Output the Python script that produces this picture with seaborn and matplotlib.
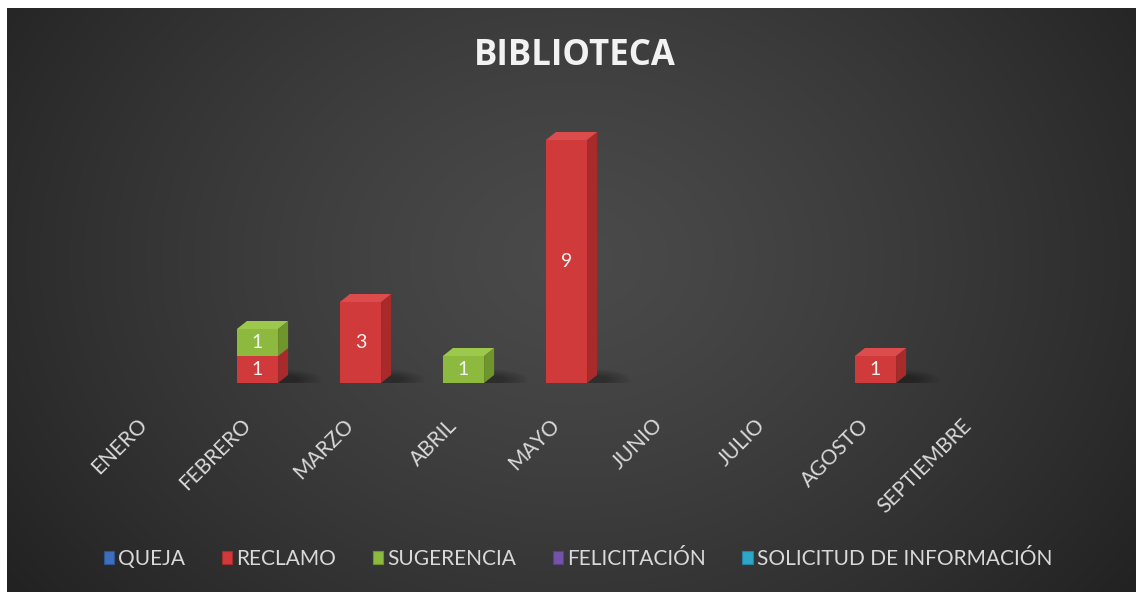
import numpy as np
import matplotlib
matplotlib.use("Agg")
import matplotlib.pyplot as plt
import seaborn as sns
from matplotlib.patches import Polygon, Patch, Ellipse
from matplotlib.transforms import ScaledTranslation

# ---------------- data ----------------
categories = ["ENERO", "FEBRERO", "MARZO", "ABRIL", "MAYO", "JUNIO", "JULIO", "AGOSTO", "SEPTIEMBRE"]
queja = [0, 0, 0, 0, 0, 0, 0, 0, 0]
reclamo = [0, 1, 3, 0, 9, 0, 0, 1, 0]
sugerencia = [0, 1, 0, 1, 0, 0, 0, 0, 0]
felicitacion = [0, 0, 0, 0, 0, 0, 0, 0, 0]
solicitud = [0, 0, 0, 0, 0, 0, 0, 0, 0]
series_names = ["QUEJA", "RECLAMO", "SUGERENCIA", "FELICITACIÓN", "SOLICITUD DE INFORMACIÓN"]
series_values = [queja, reclamo, sugerencia, felicitacion, solicitud]
title = "BIBLIOTECA"

# colours: (front, side, top)
palette = [
    ("#3d6fbe", "#2d5596", "#5585d0"),
    ("#d03a3a", "#a82a2a", "#dc4c4c"),
    ("#8cb93e", "#6e962c", "#9cc84c"),
    ("#7354a8", "#5a3f88", "#8568b8"),
    ("#2fa6c8", "#2284a2", "#45b6d6"),
]

sns.set_style("white")
plt.rcParams["font.family"] = ["Lato", "DejaVu Sans"]

W, H = 1136, 592
fig = plt.figure(figsize=(W / 100, H / 100), dpi=100)
fig.patch.set_facecolor("white")

# ---------------- background (radial gradient) ----------------
bg = fig.add_axes([7 / W, 0, 1 - 7 / W, 1 - 8 / H])
bw, bh = W - 7, H - 8
yy, xx = np.mgrid[0:bh, 0:bw]
cx, cy = 565, 250
r = np.sqrt(((xx - cx) / (bw * 0.62)) ** 2 + ((yy - cy) / (bh * 0.95)) ** 2)
r = np.clip(r, 0, 1)
val = 0x4a - (0x4a - 0x22) * r ** 1.3
img = np.dstack([val, val, val]) / 255.0
bg.imshow(img, aspect="auto", extent=[0, 1, 0, 1], interpolation="bilinear")
bg.set_axis_off()

# ---------------- main axes ----------------
base_px = 383
ax = fig.add_axes([103 / W, (H - base_px) / H, 927 / W, 270 / H])
ax.set_facecolor("none")

bar_w = 0.40
dx = 10 / 103.0
dy = 8 / 27.0

bottoms = np.zeros(len(categories))
for i, (name, vals) in enumerate(zip(series_names, series_values)):
    front, side, top = palette[i]
    n0 = len(ax.patches)
    sns.barplot(x=categories, y=vals, bottom=bottoms, color=front, width=bar_w,
                ax=ax, saturation=1, linewidth=0, zorder=3 + i)
    new = ax.patches[n0:]
    for p, v in zip(new, vals):
        p.set_facecolor(front)
        p.set_edgecolor("none")
        p.set_zorder(3 + i)
        if v <= 0:
            p.set_visible(False)
            continue
        x0, y0, w, h = p.get_x(), p.get_y(), p.get_width(), p.get_height()
        x1, y1 = x0 + w, y0 + h
        # soft shadow at the base
        if y0 == 0:
            for k in range(10):
                ew = 0.28 + 0.05 * k
                eh = 0.30 + 0.05 * k
                ax.add_patch(Ellipse((x1 + 0.06, 0.12), ew, eh, facecolor="black",
                                     edgecolor="none", alpha=0.03, zorder=1))
        ax.add_patch(Polygon([(x1, y0), (x1 + dx, y0 + dy), (x1 + dx, y1 + dy), (x1, y1)],
                             closed=True, facecolor=side, edgecolor="none", zorder=3 + i))
        ax.add_patch(Polygon([(x0, y1), (x0 + dx, y1 + dy), (x1 + dx, y1 + dy), (x1, y1)],
                             closed=True, facecolor=top, edgecolor="none", zorder=3 + i))
        ax.text(x0 + w / 2, y0 + h / 2, f"{v}", color="#f2f2f2", fontsize=14,
                ha="center", va="center", zorder=10)
    bottoms = bottoms + np.array(vals)

ax.set_xlim(-0.5, 8.5)
ax.set_ylim(0, 10)
ax.set_yticks([])
ax.set_xlabel("")
ax.set_ylabel("")
for s in ax.spines.values():
    s.set_visible(False)
ax.set_xticks(range(len(categories)))
ax.set_xticklabels(categories, rotation=45, ha="right", va="top",
                   rotation_mode="anchor", color="#d9d9d9", fontsize=15)
ax.tick_params(axis="x", length=0, pad=23)
off = ScaledTranslation(-17 / 100, 0, fig.dpi_scale_trans)
for lab in ax.get_xticklabels():
    lab.set_transform(lab.get_transform() + off)

# ---------------- title ----------------
fig.text(575 / W, 1 - 56 / H, title, color="#f2f2f2", fontsize=25,
         fontweight="bold", ha="center", va="center",
         family=["Open Sans", "DejaVu Sans"])

# ---------------- legend ----------------
handles = [Patch(facecolor=palette[i][0], edgecolor=palette[i][1], linewidth=0.8)
           for i in range(len(series_names))]
leg = fig.legend(handles, series_names, loc="center",
                 bbox_to_anchor=(578 / W, 1 - 559 / H), ncol=5, frameon=False,
                 fontsize=15, handlelength=0.5, handleheight=0.55,
                 handletextpad=0.2, columnspacing=1.75, labelcolor="#d9d9d9")

fig.savefig("out.png", dpi=100, facecolor=fig.get_facecolor())
